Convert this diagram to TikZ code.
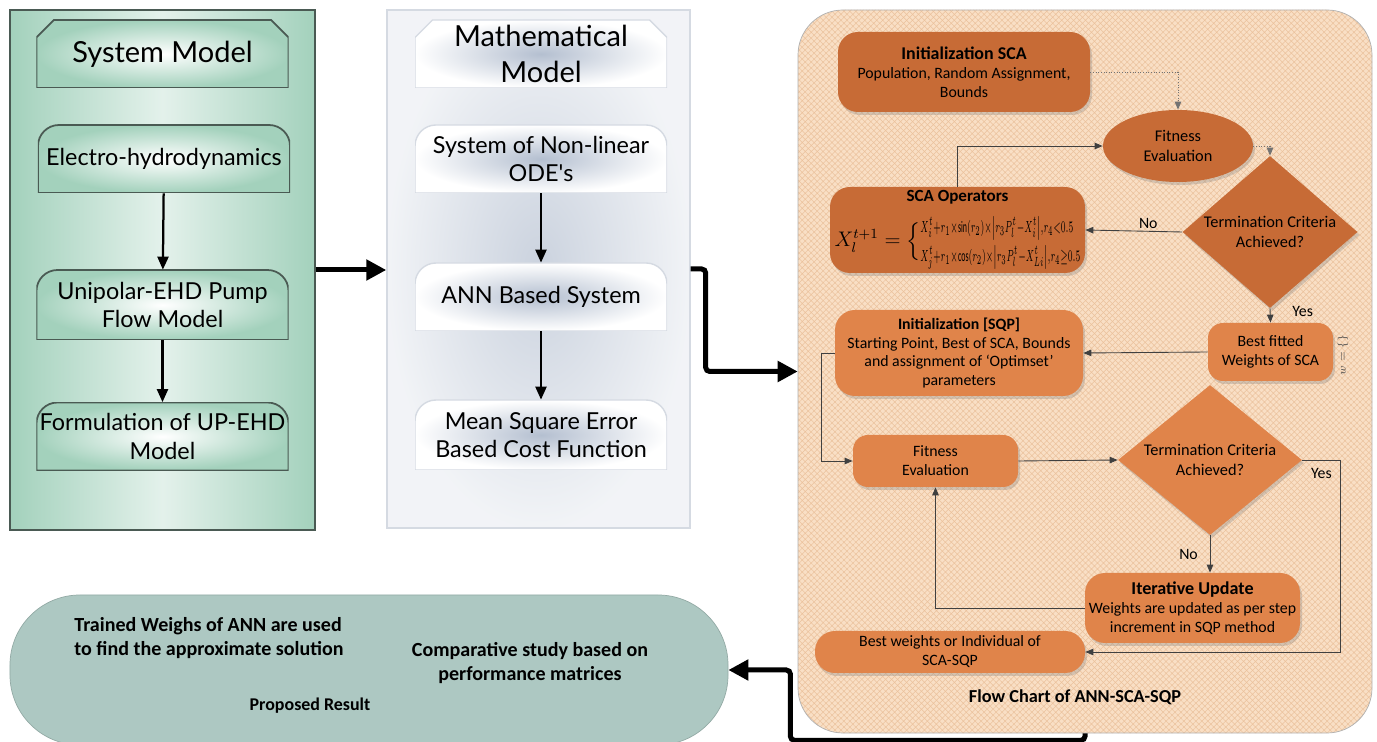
\documentclass[tikz,border=0pt]{standalone}
\usepackage{fontspec}
\setmainfont{Carlito}
\newfontfamily\gothicfont{Lato}
\usepackage{amsmath,graphicx}
\usetikzlibrary{arrows.meta,positioning,calc,shapes.geometric,shadows,patterns.meta}
\definecolor{SysGreen}{HTML}{A3D1BC}
\definecolor{SysEdge}{HTML}{4A5A53}
\definecolor{MathBlue}{HTML}{B4BFD0}
\definecolor{MathEdge}{HTML}{D5DAE2}
\definecolor{ScaOrange}{HTML}{C76B36}
\definecolor{SqpOrange}{HTML}{E0844A}
\definecolor{PeachBg}{HTML}{F9DFC5}
\definecolor{PeachLine}{HTML}{EBC29D}
\definecolor{ResultTeal}{HTML}{ADC8C2}

\begin{document}
\begin{tikzpicture}[x=0.2mm, y=-0.2mm,
    bigflow/.style={-{Triangle[length=4mm,width=4mm]}, line width=1mm, rounded corners=0.8mm},
    midflow/.style={-{Triangle[length=2.6mm,width=2.2mm]}, line width=0.45mm},
    thinflow/.style={-{Triangle[length=1.6mm,width=1.3mm]}, line width=0.5pt, draw=black!75},
    dotflow/.style={thinflow, densely dotted, draw=black!55},
    roundtop/.style={path picture={\shadedraw[#1]
        (path picture bounding box.south west)
        -- ([yshift=-4.2mm]path picture bounding box.north west) arc (180:90:4.2mm)
        -- ([xshift=-4.2mm]path picture bounding box.north east) arc (90:0:4.2mm)
        -- (path picture bounding box.south east) -- cycle;}},
    chamfer/.style={path picture={\shadedraw[#1]
        (path picture bounding box.south west)
        -- ([yshift=-3.5mm]path picture bounding box.north west) -- ([xshift=3.5mm]path picture bounding box.north west)
        -- ([xshift=-3.5mm]path picture bounding box.north east) -- ([yshift=-3.5mm]path picture bounding box.north east)
        -- (path picture bounding box.south east) -- cycle;}},
    greenfill/.style={inner color=white, outer color=SysGreen, draw=SysEdge, line width=1pt},
    bluefill/.style={inner color=MathBlue, outer color=white, draw=MathEdge, line width=0.8pt},
    box/.style={minimum width=50.4mm, minimum height=13.6mm, inner sep=1pt, align=center,
      font=\gothicfont\fontsize{13.3}{16}\selectfont},
    headfont/.style={font=\gothicfont\fontsize{16.5}{20}\selectfont},
    syspanel/.style={minimum width=61mm, minimum height=104mm, left color=SysGreen,
      right color=SysGreen, middle color=SysGreen!30, draw=SysEdge, line width=0.8pt},
    mathpanel/.style={minimum width=60.6mm, minimum height=103.6mm, inner color=MathBlue!70,
      outer color=MathBlue!18, draw=MathEdge, line width=0.8pt},
    flowpanel/.style={minimum width=114.8mm, minimum height=144.6mm, rounded corners=9mm,
      draw=black!30, preaction={fill=PeachBg},
      pattern={Hatch[angle=45,distance=2.4pt,line width=0.3pt]}, pattern color=PeachLine},
    scabox/.style={rounded corners=4mm, fill=ScaOrange, inner sep=1pt, align=center,
      font=\fontsize{9}{10.8}\selectfont,
      drop shadow={shadow xshift=0.4mm, shadow yshift=-0.6mm, opacity=0.3}},
    sqpbox/.style={scabox, fill=SqpOrange},
    decide/.style={diamond, aspect=1.15, inner sep=0pt, align=center,
      font=\fontsize{9.3}{11}\selectfont,
      drop shadow={shadow xshift=0.4mm, shadow yshift=-0.6mm, opacity=0.3}},
    lbl/.style={font=\fontsize{9}{10.8}\selectfont, inner sep=1pt},
    resultbox/.style={rounded corners=14mm, fill=ResultTeal, draw=ResultTeal!85!black,
      minimum width=143.6mm, minimum height=30mm},
    resulttext/.style={font=\bfseries\fontsize{11.4}{14}\selectfont, align=center, inner sep=0pt}
  ]
  \useasboundingbox (0,0) rectangle (1377,742);
  \clip (0,0) rectangle (1377,742);
  \fill[white] (0,0) rectangle (1377,742);

  % system model column
  \node[syspanel] (sysPanel) at (162.5,270) {};
  \node[box, headfont, chamfer=greenfill] (sysHead) at (162.5,54) {System Model};
  \node[box, roundtop=greenfill] (ehd) at (164,159) {Electro-hydrodynamics};
  \node[box, roundtop=greenfill, minimum height=14mm] (pump) at (162.5,305) {Unipolar-EHD Pump\\Flow Model};
  \node[box, roundtop=greenfill] (upehd) at (162.5,436.5) {Formulation of UP-EHD\\Model};
  \draw[midflow] (ehd) -- (pump);
  \draw[midflow] (pump) -- (upehd);

  % mathematical model column
  \node[mathpanel] (mathPanel) at (538.5,269) {};
  \node[box, headfont, chamfer=bluefill] (mathHead) at (541,54) {Mathematical\\Model};
  \node[box, roundtop=bluefill] (odes) at (541,159) {System of Non-linear\\ODE's};
  \node[box, roundtop=bluefill] (annSys) at (541,297) {ANN Based System};
  \node[box, roundtop=bluefill, minimum height=14mm] (mse) at (541,435) {Mean Square Error\\Based Cost Function};
  \draw[midflow] (odes) -- (annSys);
  \draw[midflow] (annSys) -- (mse);

  % flow chart of ANN-SCA-SQP
  \node[flowpanel] (flowPanel) at (1085,371.5) {};
  \node[scabox, minimum width=50.4mm, minimum height=16mm] (initSCA) at (964,72)
    {{\bfseries\fontsize{10.2}{12}\selectfont Initialization SCA}\\Population, Random Assignment,\\Bounds};
  \node[ellipse, fill=ScaOrange, minimum width=30mm, minimum height=14.4mm, inner sep=0pt,
    align=center, font=\fontsize{9.3}{11}\selectfont,
    drop shadow={shadow xshift=0.4mm, shadow yshift=-0.6mm, opacity=0.3}] (fitA) at (1178,146)
    {Fitness\\Evaluation};
  \node[decide, fill=ScaOrange, minimum width=35mm, minimum height=30.4mm] (termA) at (1270,232)
    {Termination Criteria\\Achieved?};
  \node[scabox, minimum width=51mm, minimum height=17.2mm] (scaOps) at (957.5,230)
    {{\bfseries\fontsize{9.7}{11}\selectfont SCA Operators}\\[3.5pt]
     {\fontsize{12}{12}\selectfont$X_l^{t+1}=\Big\{$}\resizebox{32mm}{7mm}{$\begin{array}{@{}l@{}}
       \scriptstyle X_i^t+r_1\times\sin(r_2)\times\left|r_3P_l^t-X_i^t\right|,r_4<0.5\\
       \scriptstyle X_j^t+r_1\times\cos(r_2)\times\left|r_3P_l^t-X_{Li}^t\right|,r_4\geq0.5
     \end{array}$}};
  \node[sqpbox, minimum width=25mm, minimum height=11.6mm, rounded corners=3mm] (bestSCA) at (1270.5,352)
    {Best fitted\\Weights of SCA};
  \node[sqpbox, minimum width=49.6mm, minimum height=17.2mm] (initSQP) at (959,353)
    {{\bfseries Initialization [SQP]}\\Starting Point, Best of SCA, Bounds\\and assignment of ‘Optimset’\\parameters};
  \node[sqpbox, minimum width=33mm, minimum height=10.4mm, rounded corners=3mm] (fitB) at (935.5,461)
    {Fitness\\Evaluation};
  \node[decide, fill=SqpOrange, minimum width=36.8mm, minimum height=30mm] (termB) at (1210,460)
    {Termination Criteria\\Achieved?};
  \node[sqpbox, minimum width=43mm, minimum height=14mm] (iterUpd) at (1192.5,608)
    {{\bfseries\fontsize{10.3}{12}\selectfont Iterative Update}\\Weights are updated as per step\\increment in SQP method};
  \node[sqpbox, minimum width=54mm, minimum height=8.4mm] (bestInd) at (950,652)
    {Best weights or Individual of\\SCA-SQP};
  \node[font=\bfseries\fontsize{10.4}{12}\selectfont] (flowTitle) at (1075,697) {Flow Chart of ANN-SCA-SQP};
  \node[rotate=90, font=\fontsize{6}{6}\selectfont, text=black!70] (stray) at (1343,355) {$w=\{\}$};

  \draw[dotflow] (initSCA.east) -| (fitA.north);
  \draw[dotflow] (fitA.east) -| (termA.north);
  \draw[thinflow] (termA.west) -- node[lbl, above, pos=0.35] (noA) {No} (scaOps.east);
  \draw[thinflow] (scaOps.north) |- (fitA.west);
  \draw[thinflow] (termA.south) -- node[lbl, right=4mm, pos=0.2] (yesA) {Yes} (bestSCA.north);
  \draw[thinflow] (bestSCA.west) -- (initSQP.east);
  \draw[thinflow] (initSQP.west) -- ++(-13,0) |- (fitB.west);
  \draw[thinflow] (fitB.east) -- (termB.west);
  \draw[thinflow] (termB.south) -- node[lbl, left=2mm] (noB) {No} (termB.south |- iterUpd.north);
  \draw[thinflow] (termB.east) -- ++(38,0) node[lbl, pos=0.5, below=1.2mm] (yesB) {Yes} |- (bestInd.east);
  \draw[thinflow] (iterUpd.west) -| (fitB.south);

  % proposed result
  \node[resultbox] (result) at (369,670) {};
  \node[resulttext, align=left] (trained) at (209,638) {Trained Weighs of ANN are used\\to find the approximate solution};
  \node[resulttext] (compare) at (530,663) {Comparative study based on\\performance matrices};
  \node[resulttext, font=\bfseries\fontsize{10.2}{12}\selectfont] (propRes) at (310,706) {Proposed Result};

  % links between the stages
  \draw[bigflow] (sysPanel.east) -- (sysPanel.east -| mathPanel.west);
  \draw[bigflow] (mathPanel.east) -- ++(15,0) |- (flowPanel.west);
  \draw[bigflow] (flowPanel.south) -- ++(0,7) -| ($(result.east)+(62,0)$) -- (result.east);
\end{tikzpicture}
\end{document}
